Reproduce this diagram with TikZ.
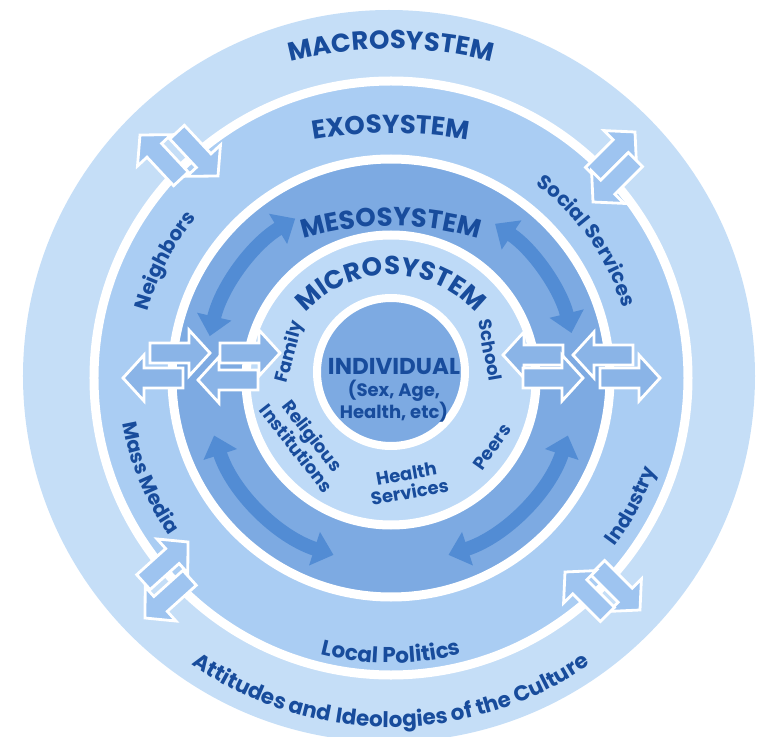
\documentclass[tikz,border=0pt]{standalone}
\usepackage{fontspec}
\setmainfont{Poppins}
\usetikzlibrary{arrows.meta,decorations.text}

\definecolor{macrofill}{RGB}{197,222,247}
\definecolor{exofill}{RGB}{170,205,243}
\definecolor{mesofill}{RGB}{125,170,226}
\definecolor{microfill}{RGB}{190,218,247}
\definecolor{indivfill}{RGB}{125,170,226}
\definecolor{mesoarrow}{RGB}{82,140,212}
\definecolor{flatarrow}{RGB}{138,180,231}
\definecolor{diagarrow}{RGB}{158,196,240}
\definecolor{labelblue}{RGB}{24,76,156}

\newcommand{\sysfont}{\color{labelblue}\bfseries\fontsize{26}{28}\selectfont}
\newcommand{\sidefont}{\color{labelblue}\bfseries\fontsize{20}{22}\selectfont}
\newcommand{\culturefont}{\color{labelblue}\bfseries\fontsize{21.5}{23}\selectfont}
\newcommand{\smallfont}{\color{labelblue}\bfseries\fontsize{18}{19}\selectfont}

\tikzset{
  ring/.style={draw=white, line width=9pt},
  arctext/.style={decorate, decoration={text along path, text align=center, text={#1}}},
  halfarrow/.pic={
    \filldraw[draw=white, line width=2.8pt, line join=miter, pic actions]
      (0,0) -- (-21,23) -- (-21,10) -- (-60,10) -- (-60,-10) -- (-21,-10) -- (-21,-23) -- cycle;
  },
  mesoarr/.style={draw=mesoarrow, line width=14pt,
    {Triangle[width=34pt,length=20pt]}-{Triangle[width=34pt,length=20pt]}},
  microlabel/.style={font=\smallfont, align=center, inner sep=0pt},
}

\begin{document}
\begin{tikzpicture}[x=1pt, y=1pt]

\useasboundingbox (-391,-358) rectangle (369,378);

% rings, outside in
\fill[macrofill] (-2,2) circle[radius=366];
\fill[exofill] (0,0) circle[radius=297];
\draw[ring] (0,0) circle[radius=297];
\fill[mesofill] (0,0) circle[radius=219];
\draw[ring] (0,0) circle[radius=219];
\fill[microfill] (0,-2) circle[radius=145];
\draw[ring] (0,-2) circle[radius=145];
\fill[indivfill] (0,6) circle[radius=74];
\draw[white, line width=8pt] (0,6) circle[radius=74];

% curved arrows in the mesosystem
\draw[mesoarr] (167:186) arc[start angle=167, end angle=121, radius=186];
\draw[mesoarr] (56:186) arc[start angle=56, end angle=14, radius=186];
\draw[mesoarr] (198:186) arc[start angle=198, end angle=252, radius=186];
\draw[mesoarr] (-72:186) arc[start angle=-72, end angle=-18, radius=186];

% crossing arrows, left and right
\pic[fill=flatarrow, rotate=180] (lo1) at (-268,0) {halfarrow};
\pic[fill=flatarrow, rotate=0] (lo2) at (-181,25) {halfarrow};
\pic[fill=flatarrow, rotate=180] (li1) at (-193,-2) {halfarrow};
\pic[fill=flatarrow, rotate=0] (li2) at (-111,25) {halfarrow};
\pic[fill=flatarrow, rotate=180] (ri1) at (112,23) {halfarrow};
\pic[fill=flatarrow, rotate=0] (ri2) at (192,0) {halfarrow};
\pic[fill=flatarrow, rotate=180] (ro1) at (182,23) {halfarrow};
\pic[fill=flatarrow, rotate=0] (ro2) at (269,0) {halfarrow};

% crossing arrows, diagonals
\pic[fill=diagarrow, rotate=133] (tl1) at (-251,243) {halfarrow};
\pic[fill=diagarrow, rotate=-47] (tl2) at (-173,202) {halfarrow};
\pic[fill=diagarrow, rotate=45] (tr1) at (244,246) {halfarrow};
\pic[fill=diagarrow, rotate=225] (tr2) at (202,176) {halfarrow};
\pic[fill=diagarrow, rotate=222] (bl1) at (-246,-240) {halfarrow};
\pic[fill=diagarrow, rotate=42] (bl2) at (-203,-164) {halfarrow};
\pic[fill=diagarrow, rotate=-45] (br1) at (249,-232) {halfarrow};
\pic[fill=diagarrow, rotate=135] (br2) at (174,-194) {halfarrow};

% system names
\path[shift={(0,-71)}, arctext={|\sysfont|MACROSYSTEM}] (115:400) arc[start angle=115, end angle=65, radius=400];
\path[shift={(0,-205)}, arctext={|\sysfont|EXOSYSTEM}] (105:450) arc[start angle=105, end angle=75, radius=450];
\path[shift={(0,-148)}, arctext={|\sysfont|MESOSYSTEM}] (115:300) arc[start angle=115, end angle=65, radius=300];
\path[shift={(0,-11)}, arctext={|\sysfont|MICROSYSTEM}] (170:114) arc[start angle=170, end angle=10, radius=114];

% exosystem and macrosystem members
\path[arctext={|\sidefont|Neighbors}] (190:252) arc[start angle=190, end angle=115, radius=252];
\path[arctext={|\sidefont|Social Services}] (72:242) arc[start angle=72, end angle=-2, radius=242];
\path[arctext={|\sidefont|Mass Media}] (170:272) arc[start angle=170, end angle=235, radius=272];
\path[arctext={|\sidefont|Industry}] (-60:280) arc[start angle=-60, end angle=4, radius=280];
\path[arctext={|\culturefont|Local Politics}] (240:285) arc[start angle=240, end angle=300, radius=285];
\path[arctext={|\culturefont|Attitudes and Ideologies of the Culture}] (195:349) arc[start angle=195, end angle=345, radius=349];

% microsystem members
\node[microlabel, rotate=75] (family) at (-101,26) {Family};
\node[microlabel, rotate=-80] (school) at (99,28) {School};
\node[microlabel, rotate=-52] (relig) at (-86,-64) {Religious\\Institutions};
\node[microlabel, rotate=10] (health) at (17,-105) {Health\\Services};
\node[microlabel, rotate=55] (peers) at (101,-69) {Peers};

% the individual
\node[font=\color{labelblue}\bfseries\fontsize{23}{24}\selectfont, inner sep=0pt] (indiv) at (3,11) {INDIVIDUAL};
\node[microlabel] (traits) at (3,-23) {(Sex, Age,\\Health, etc)};

\end{tikzpicture}
\end{document}
